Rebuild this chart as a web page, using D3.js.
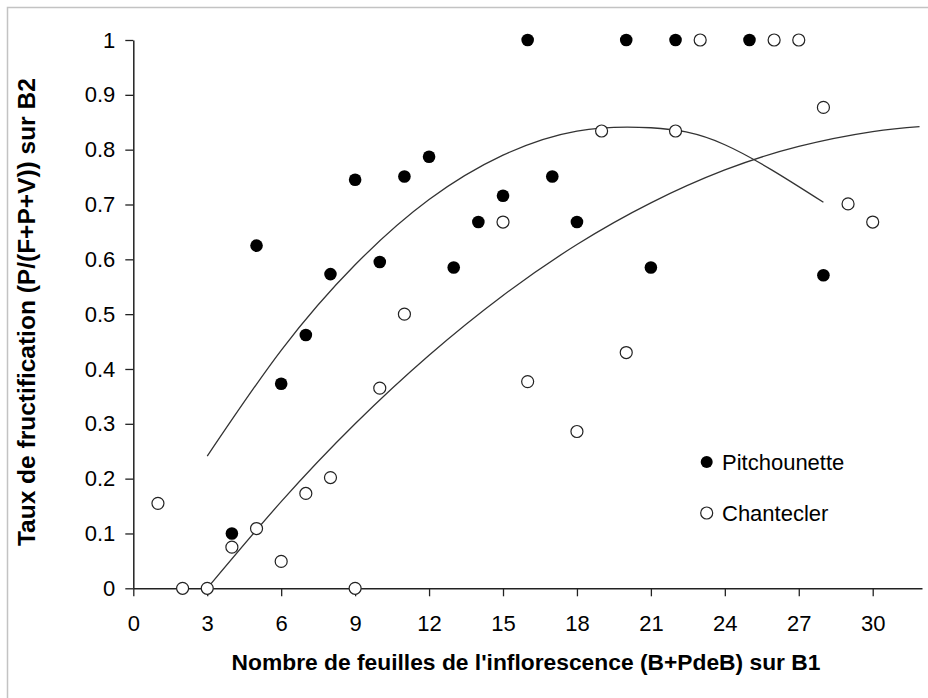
<!DOCTYPE html>
<html>
<head>
<meta charset="utf-8">
<script src="https://cdn.jsdelivr.net/npm/d3@7"></script>
<style>
  html, body { margin: 0; padding: 0; background: #fff; }
  svg { display: block; }
  text { font-family: "Liberation Sans", Arial, sans-serif; fill: #000; }
</style>
</head>
<body>
<svg id="chart" width="928" height="698"></svg>
<script>
// ---- Data ----
const seriesNames = ["Pitchounette", "Chantecler"];

const pitchX = [4, 5, 6, 7, 8, 9, 10, 11, 12, 13, 14, 15, 16, 17, 18, 20, 21, 22, 25, 28];
const pitchY = [0.100, 0.625, 0.373, 0.462, 0.573, 0.745, 0.595, 0.751, 0.787, 0.585, 0.668, 0.716, 1.0, 0.751, 0.668, 1.0, 0.585, 1.0, 1.0, 0.571];

const chantX = [1, 2, 3, 4, 5, 6, 7, 8, 9, 10, 11, 15, 16, 18, 19, 20, 22, 23, 26, 27, 28, 29, 30];
const chantY = [0.155, 0, 0, 0.075, 0.109, 0.049, 0.173, 0.202, 0, 0.365, 0.500, 0.668, 0.377, 0.286, 0.834, 0.430, 0.834, 1.0, 1.0, 1.0, 0.877, 0.701, 0.668];

// Fitted curves
const pitchFitX = [3, 6, 9, 12, 15, 18, 21, 24, 28];
const pitchFitY = [0.241, 0.434, 0.590, 0.709, 0.790, 0.834, 0.840, 0.809, 0.704];

const chantFitX = [3, 6, 9, 12, 15, 18, 21, 24, 27, 30, 31.9];
const chantFitY = [0, 0.158, 0.300, 0.425, 0.534, 0.627, 0.703, 0.763, 0.806, 0.833, 0.842];

const xTicks = [0, 3, 6, 9, 12, 15, 18, 21, 24, 27, 30];
const yTicks = [0, 0.1, 0.2, 0.3, 0.4, 0.5, 0.6, 0.7, 0.8, 0.9, 1];

const xTitle = "Nombre de feuilles de l'inflorescence (B+PdeB) sur B1";
const yTitle = "Taux de fructification (P/(F+P+V)) sur B2";

// ---- Drawing ----
const svg = d3.select("#chart");
const FONT = '"Liberation Sans", Arial, sans-serif';

// frame
svg.append("rect")
  .attr("x", 7.5).attr("y", 7.5)
  .attr("width", 1000).attr("height", 1000)
  .attr("fill", "none").attr("stroke", "#c3c3c3").attr("stroke-width", 1.5);

const x = d3.scaleLinear().domain([0, 32]).range([133.3, 922]);
const y = d3.scaleLinear().domain([0, 1]).range([588.3, 40]);

const axisColor = "#222";

// x axis
const gx = svg.append("g").attr("transform", `translate(0,${y(0)})`)
  .call(d3.axisBottom(x).tickValues(xTicks).tickFormat(d3.format("d"))
        .tickSizeInner(8).tickSizeOuter(0).tickPadding(19));
gx.select(".domain").attr("stroke", axisColor).attr("stroke-width", 1.5);
gx.selectAll(".tick line").attr("stroke", axisColor).attr("stroke-width", 1.3);
gx.selectAll(".tick text").attr("font-size", 22).attr("fill", "#000")
  .style("font-family", FONT);

// y axis
const gy = svg.append("g").attr("transform", `translate(${x(0)},0)`)
  .call(d3.axisLeft(y).tickValues(yTicks).tickFormat(d => String(+d.toFixed(1)))
        .tickSizeInner(8).tickSizeOuter(0).tickPadding(10));
gy.select(".domain").attr("stroke", axisColor).attr("stroke-width", 1.5);
gy.selectAll(".tick line").attr("stroke", axisColor).attr("stroke-width", 1.3);
gy.selectAll(".tick text").attr("font-size", 22).attr("fill", "#000")
  .style("font-family", FONT);

// fitted curves
const line = d3.line().x(d => x(d[0])).y(d => y(d[1])).curve(d3.curveNatural);
svg.append("path")
  .attr("d", line(d3.zip(pitchFitX, pitchFitY)))
  .attr("fill", "none").attr("stroke", "#333").attr("stroke-width", 1.3);
svg.append("path")
  .attr("d", line(d3.zip(chantFitX, chantFitY)))
  .attr("fill", "none").attr("stroke", "#333").attr("stroke-width", 1.3);

// points
svg.append("g").selectAll("circle")
  .data(d3.zip(chantX, chantY)).join("circle")
  .attr("cx", d => x(d[0])).attr("cy", d => y(d[1])).attr("r", 6)
  .attr("fill", "#fff").attr("stroke", "#222").attr("stroke-width", 1.2);

svg.append("g").selectAll("circle")
  .data(d3.zip(pitchX, pitchY)).join("circle")
  .attr("cx", d => x(d[0])).attr("cy", d => y(d[1])).attr("r", 6.3)
  .attr("fill", "#000");

// legend
const legend = svg.append("g");
const legItems = [
  { name: seriesNames[0], filled: true, cy: 462 },
  { name: seriesNames[1], filled: false, cy: 513 }
];
legItems.forEach(it => {
  legend.append("circle")
    .attr("cx", 706.7).attr("cy", it.cy).attr("r", 6)
    .attr("fill", it.filled ? "#000" : "#fff")
    .attr("stroke", it.filled ? "none" : "#222").attr("stroke-width", 1.2);
  legend.append("text")
    .attr("x", 722).attr("y", it.cy).attr("dy", "0.35em")
    .attr("font-size", 22).text(it.name);
});

// axis titles
svg.append("text")
  .attr("x", 526).attr("y", 670)
  .attr("text-anchor", "middle").attr("font-size", 22.8).attr("font-weight", "bold")
  .text(xTitle);

svg.append("text")
  .attr("transform", `translate(35,${(y(0) + y(1)) / 2 - 2}) rotate(-90)`)
  .attr("text-anchor", "middle").attr("font-size", 24.5).attr("font-weight", "bold")
  .text(yTitle);
</script>
</body>
</html>
